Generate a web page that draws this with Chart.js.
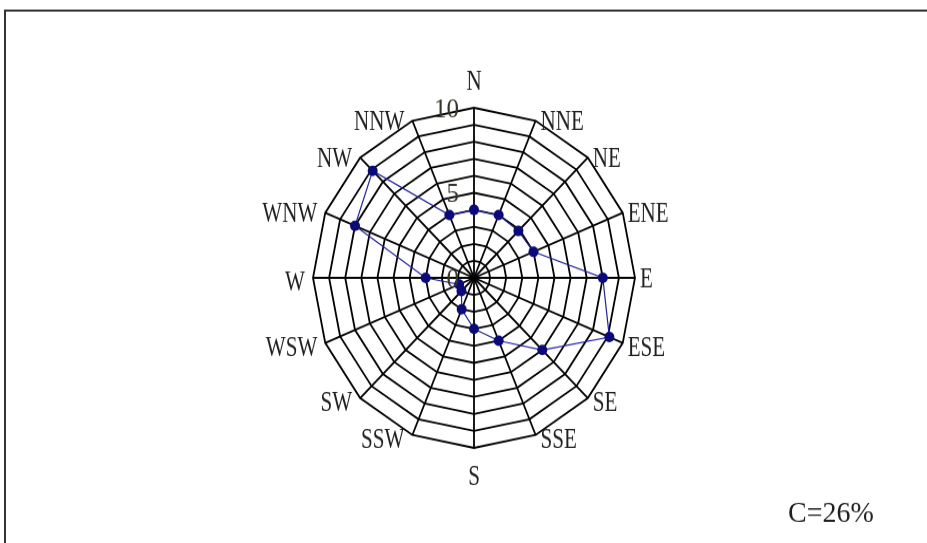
<!DOCTYPE html>
<html>
<head>
<meta charset="utf-8">
<script src="https://cdn.jsdelivr.net/npm/chart.js@4"></script>
<style>
  html, body { margin: 0; padding: 0; background: #fff; overflow: hidden; }
  #wrap { position: absolute; left: 0; top: 0; width: 927px; height: 514px; transform: scaleY(1.05642); transform-origin: 0 0; }
  canvas { display: block; }
</style>
</head>
<body>
<div id="wrap"><canvas id="rose" width="927" height="514" style="width:927px;height:514px"></canvas></div>
<script>
// wind directions, clockwise from north
const directions = ['N', 'NNE', 'NE', 'ENE', 'E', 'ESE', 'SE', 'SSE', 'S', 'SSW', 'SW', 'WSW', 'W', 'WNW', 'NW', 'NNW'];
// frequency per direction (%)
const frequency = [4, 4, 3.9, 4, 8, 9.1, 6, 4, 3, 2, 1.1, 1, 3, 8, 8.9, 4];
const tickLabels = [0, 5, 10];
const calmText = 'C=26%';

// draws the frame, the direction names, the 0/5/10 ticks and the calm note
const decorations = {
    id: 'decorations',
    beforeDraw(chart) {
        const ctx = chart.ctx;
        ctx.save();
        ctx.strokeStyle = '#333';
        ctx.lineWidth = 2;
        ctx.strokeRect(5, 10, 2000, 2000);
        ctx.restore();
    },
    afterDraw(chart) {
        const ctx = chart.ctx;
        const r = chart.scales.r;
        ctx.save();
        ctx.fillStyle = '#1f1f1f';
        ctx.font = '27px "Liberation Serif", serif';
        directions.forEach((name, i) => {
            const a = r.getIndexAngle(i);
            const p = r.getPointPosition(i, r.drawingArea);
            const sx = Math.sin(a), cy = Math.cos(a);
            let x = p.x, y = p.y + (cy < 0 ? 5 : 2), align = 'center';
            if (sx > 0.1) { align = 'left'; x += 5; }
            else if (sx < -0.1) { align = 'right'; x -= 8; }
            else if (cy > 0) { y = p.y - 24; }
            else { y = p.y + 28; }
            ctx.save();
            ctx.translate(x, y);
            ctx.scale(0.78, 1);
            ctx.textAlign = align;
            ctx.textBaseline = 'middle';
            ctx.fillText(name, 0, 0);
            ctx.restore();
        });

        ctx.fillStyle = '#35352a';
        ctx.font = '25px "Liberation Serif", serif';
        ctx.textAlign = 'right';
        ctx.textBaseline = 'middle';
        tickLabels.forEach(v => {
            const p = r.getPointPositionForValue(0, v);
            ctx.fillText(String(v), r.xCenter - 15, p.y + 2);
        });

        ctx.fillStyle = '#1f1f1f';
        ctx.font = '28px "Liberation Serif", serif';
        ctx.textAlign = 'left';
        ctx.textBaseline = 'alphabetic';
        ctx.fillText(calmText, 788, 494);
        ctx.restore();
    }
};

new Chart(document.getElementById('rose'), {
    type: 'radar',
    data: {
        labels: directions,
        datasets: [{
            data: frequency,
            borderColor: '#22229a',
            borderWidth: 1.2,
            backgroundColor: 'rgba(0,0,0,0)',
            fill: false,
            pointRadius: 5,
            pointBackgroundColor: '#0a0a78',
            pointBorderColor: '#0a0a78',
            pointBorderWidth: 0,
            tension: 0
        }]
    },
    options: {
        responsive: false,
        animation: false,
        layout: { padding: { left: 313, right: 292, top: 102, bottom: 90 } },
        plugins: { legend: { display: false }, tooltip: { enabled: false } },
        scales: {
            r: {
                min: 0,
                max: 10,
                startAngle: 0,
                ticks: { stepSize: 1, display: false },
                pointLabels: { display: false },
                grid: { color: '#000', lineWidth: 1.8, circular: false },
                angleLines: { color: '#000', lineWidth: 1.8 }
            }
        }
    },
    plugins: [decorations]
});
</script>
</body>
</html>
